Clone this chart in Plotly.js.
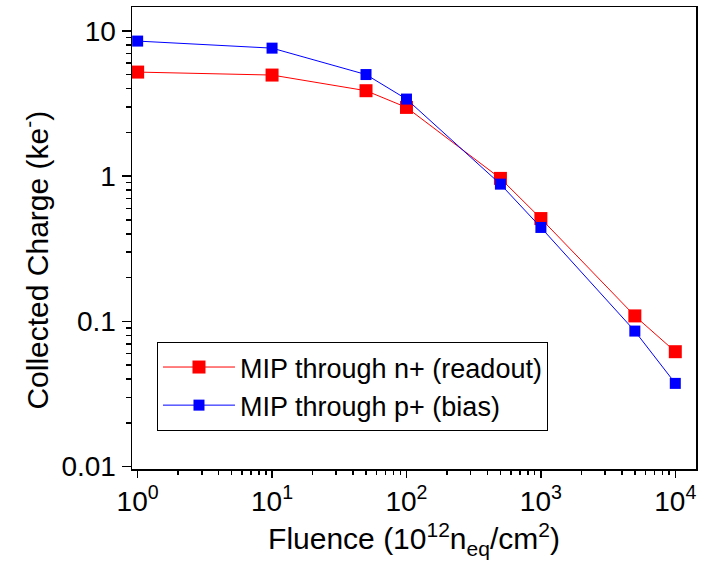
<!DOCTYPE html>
<html>
<head>
<meta charset="utf-8">
<script src="https://cdn.plot.ly/plotly-3.0.1.min.js"></script>
<style>html,body{margin:0;padding:0;background:#fff;}#chart{width:711px;height:569px;}</style>
</head>
<body>
<div id="chart"></div>
<script>
const fluence = [1, 10, 50, 100, 500, 1000, 5000, 10000];
const chargeN = [5.2, 4.96, 3.87, 2.97, 0.964, 0.51, 0.109, 0.0618];
const chargeP = [8.5, 7.6, 5.0, 3.39, 0.88, 0.443, 0.0857, 0.0374];
const nameN = 'MIP through n+ (readout)';
const nameP = 'MIP through p+ (bias)';
const xTickVals = [1, 10, 100, 1000, 10000];
const xTickText = ['10<sup>0</sup>', '10<sup>1</sup>', '10<sup>2</sup>', '10<sup>3</sup>', '10<sup>4</sup>'];
const yTickVals = [0.01, 0.1, 1, 10];
const yTickText = ['0.01', '0.1', '1', '10'];
const xTitle = 'Fluence (10<sup>12</sup>n<sub>eq</sub>/cm<sup>2</sup>)';
const yTitle = 'Collected Charge (ke<sup>-</sup>)';

const FONT = 'Liberation Sans, Arial, Helvetica, sans-serif';

const traces = [
  {x: fluence, y: chargeN, name: nameN, type: 'scatter', mode: 'lines+markers',
   line: {color: '#ff0000', width: 1}, marker: {symbol: 'square', size: 13, color: '#ff0000'}},
  {x: fluence, y: chargeP, name: nameP, type: 'scatter', mode: 'lines+markers',
   line: {color: '#0000ff', width: 1}, marker: {symbol: 'square', size: 11, color: '#0000ff'}}
];

const axisCommon = {
  type: 'log', showgrid: false, zeroline: false,
  showline: true, linecolor: '#000', linewidth: 1.5, mirror: true,
  ticks: 'outside', tickwidth: 1.5, tickcolor: '#000',
  tickfont: {family: FONT, size: 28, color: '#000'},
  tickmode: 'array'
};

const layout = {
  width: 711, height: 569,
  margin: {l: 132, r: 15, t: 7, b: 100},
  paper_bgcolor: '#fff', plot_bgcolor: '#fff',
  font: {family: FONT, color: '#000'},
  showlegend: true,
  legend: {
    x: 0.0443, y: 0.0823, xanchor: 'left', yanchor: 'bottom',
    bordercolor: '#000', borderwidth: 1, bgcolor: '#fff',
    font: {family: FONT, size: 27, color: '#000'},
    itemwidth: 72, tracegroupgap: 0
  },
  xaxis: Object.assign({}, axisCommon, {
    range: [-0.042, 4.154], ticklen: 7,
    minor: {dtick: 'D1', ticks: 'outside', ticklen: 4, tickwidth: 1.5, tickcolor: '#000', showgrid: false},
    tickvals: xTickVals, ticktext: xTickText,
    title: {text: xTitle, font: {family: FONT, size: 30, color: '#000'}, standoff: 12}
  }),
  yaxis: Object.assign({}, axisCommon, {
    range: [-2.0165, 1.164], ticklen: 9,
    minor: {dtick: 'D1', ticks: 'outside', ticklen: 5, tickwidth: 1.5, tickcolor: '#000', showgrid: false},
    tickvals: yTickVals, ticktext: yTickText
  }),
  annotations: [{
    text: yTitle, xref: 'paper', yref: 'paper', x: -0.170, y: 0.4513,
    xanchor: 'center', yanchor: 'middle', textangle: -90, showarrow: false,
    font: {family: FONT, size: 30, color: '#000'}
  }]
};

Plotly.newPlot('chart', traces, layout, {displayModeBar: false, staticPlot: true});
</script>
</body>
</html>
